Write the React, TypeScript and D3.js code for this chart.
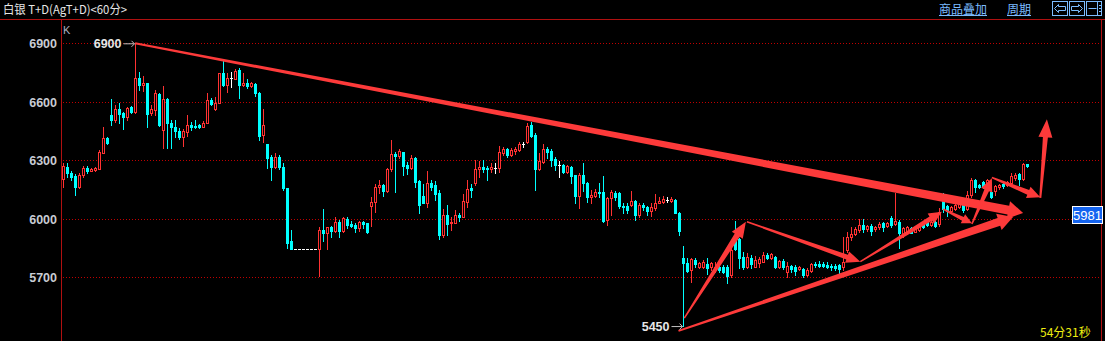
import React from "react";
import * as d3 from "d3";

// ---------- data ----------
const opens = [
  6203, 6264, 6237, 6220, 6165, 6225, 6262, 6247, 6250, 6257,
  6339, 6415, 6531, 6507, 6562, 6541, 6521, 6572, 6550, 6721,
  6686, 6695, 6541, 6558, 6640, 6456, 6613, 6490, 6469, 6452,
  6418, 6447, 6481, 6477, 6481, 6469, 6490, 6609, 6562, 6596,
  6746, 6686, 6721, 6716, 6763, 6686, 6698, 6683, 6691, 6647,
  6430, 6384, 6316, 6264, 6319, 6268, 6156, 5888, 5845, 5845,
  5845, 5845, 5845, 5845, 5845, 5942, 5929, 5960, 5939, 5983,
  5939, 6001, 5973, 5970, 5954, 5983, 5980, 6066, 6084, 6161,
  6173, 6144, 6253, 6332, 6324, 6342, 6276, 6259, 6310, 6194,
  6117, 6083, 6182, 6173, 6130, 5917, 6019, 5977, 5980, 6019,
  6011, 6084, 6156, 6185, 6253, 6264, 6259, 6255, 6259, 6262,
  6336, 6356, 6327, 6348, 6353, 6382, 6395, 6481, 6429, 6255,
  6293, 6356, 6348, 6306, 6276, 6276, 6242, 6267, 6224, 6117,
  6225, 6186, 6111, 6117, 6140, 6140, 5994, 6105, 6134, 6134,
  6066, 6066, 6071, 6093, 6020, 6071, 6060, 6042, 6054, 6083,
  6088, 6097, 6093, 6097, 6032, 5798, 5772, 5738, 5789, 5755,
  5752, 5769, 5752, 5741, 5755, 5755, 5755, 5712, 5900, 5895,
  5803, 5755, 5798, 5755, 5772, 5781, 5815, 5800, 5806, 5755,
  5786, 5729, 5758, 5755, 5741, 5741, 5712, 5734, 5769, 5766,
  5769, 5764, 5758, 5760, 5764, 5755, 5840, 5905, 5923, 5943,
  5969, 5946, 5963, 5946, 5956, 5977, 5963, 6002, 5973, 5985,
  5917, 5925, 5951, 5934, 5942, 5977, 5990, 5968, 5985, 5973,
  6127, 6066, 6042, 6049, 6058, 6071, 6049, 6122, 6199, 6173,
  6190, 6165, 6139, 6144, 6161, 6178, 6173, 6182, 6207, 6229,
  6202, 6281,
];
const highs = [
  6288, 6285, 6247, 6230, 6233, 6271, 6271, 6262, 6265, 6353,
  6469, 6421, 6613, 6584, 6596, 6550, 6575, 6579, 6900, 6751,
  6733, 6695, 6584, 6661, 6644, 6681, 6618, 6507, 6507, 6464,
  6459, 6533, 6498, 6507, 6485, 6502, 6647, 6618, 6627, 6746,
  6818, 6746, 6751, 6767, 6772, 6746, 6715, 6703, 6698, 6652,
  6562, 6384, 6327, 6336, 6327, 6288, 6160, 5943, 5845, 5845,
  5845, 5845, 5845, 5845, 5960, 6050, 5960, 5963, 6007, 5994,
  6007, 6007, 5990, 5977, 5990, 5990, 5980, 6113, 6178, 6199,
  6178, 6259, 6404, 6344, 6356, 6342, 6293, 6327, 6318, 6199,
  6178, 6245, 6199, 6195, 6148, 6050, 6071, 6011, 6045, 6028,
  6127, 6199, 6178, 6301, 6296, 6301, 6271, 6284, 6284, 6375,
  6370, 6365, 6361, 6370, 6395, 6395, 6489, 6498, 6438, 6336,
  6383, 6366, 6356, 6315, 6296, 6281, 6276, 6271, 6224, 6237,
  6288, 6191, 6148, 6151, 6182, 6220, 6110, 6148, 6145, 6140,
  6080, 6080, 6145, 6097, 6080, 6080, 6066, 6080, 6128, 6114,
  6117, 6110, 6114, 6100, 6037, 5861, 5798, 5798, 5798, 5781,
  5789, 5798, 5781, 5776, 5765, 5765, 5764, 5849, 5991, 5900,
  5832, 5823, 5815, 5810, 5806, 5832, 5823, 5823, 5810, 5789,
  5795, 5781, 5763, 5763, 5760, 5746, 5746, 5772, 5781, 5786,
  5776, 5776, 5769, 5766, 5769, 5905, 5934, 5960, 5960, 5998,
  5998, 5970, 5973, 5965, 5985, 5985, 5982, 6014, 6134, 5994,
  5960, 5965, 5958, 5965, 5968, 5982, 5995, 5990, 5990, 6054,
  6130, 6071, 6068, 6075, 6088, 6080, 6144, 6207, 6203, 6180,
  6195, 6205, 6148, 6173, 6178, 6182, 6195, 6233, 6233, 6233,
  6288, 6281,
];
const lows = [
  6165, 6216, 6199, 6122, 6160, 6216, 6237, 6245, 6247, 6254,
  6336, 6384, 6481, 6498, 6490, 6459, 6507, 6541, 6545, 6661,
  6657, 6469, 6533, 6533, 6476, 6362, 6362, 6362, 6421, 6408,
  6374, 6425, 6456, 6464, 6464, 6469, 6490, 6584, 6558, 6592,
  6683, 6652, 6678, 6716, 6618, 6683, 6669, 6678, 6630, 6404,
  6396, 6259, 6199, 6259, 6254, 6148, 5849, 5845, 5845, 5845,
  5845, 5845, 5845, 5845, 5707, 5888, 5843, 5908, 5934, 5908,
  5934, 5951, 5956, 5934, 5939, 5951, 5929, 5963, 6036, 6130,
  6117, 6139, 6247, 6139, 6310, 6224, 6230, 6253, 6165, 6031,
  6079, 6062, 6148, 6096, 5896, 5908, 5917, 5942, 5977, 5990,
  6007, 6062, 6113, 6173, 6216, 6242, 6199, 6242, 6237, 6242,
  6327, 6315, 6324, 6332, 6349, 6366, 6390, 6420, 6148, 6250,
  6284, 6310, 6271, 6250, 6212, 6233, 6237, 6182, 6083, 6054,
  6145, 6088, 6080, 6114, 6110, 5986, 5969, 6020, 6097, 6054,
  6032, 6028, 6066, 5994, 6011, 6046, 6020, 6015, 6046, 6080,
  6083, 6088, 6088, 6028, 5917, 5450, 5729, 5678, 5755, 5746,
  5746, 5717, 5738, 5729, 5729, 5720, 5673, 5704, 5840, 5746,
  5741, 5746, 5746, 5751, 5755, 5776, 5793, 5795, 5746, 5746,
  5741, 5700, 5729, 5712, 5738, 5704, 5707, 5729, 5755, 5755,
  5752, 5746, 5738, 5738, 5720, 5738, 5832, 5892, 5917, 5934,
  5930, 5940, 5917, 5940, 5946, 5939, 5958, 5960, 5968, 5849,
  5908, 5920, 5925, 5930, 5938, 5955, 5963, 5963, 5958, 5963,
  6036, 6014, 6038, 6045, 6054, 6036, 6045, 6113, 6139, 6160,
  6160, 6160, 6105, 6122, 6155, 6160, 6168, 6173, 6200, 6173,
  6199, 6264,
];
const closes = [
  6271, 6233, 6216, 6165, 6225, 6262, 6245, 6256, 6262, 6343,
  6415, 6387, 6507, 6562, 6538, 6524, 6567, 6550, 6721, 6686,
  6698, 6538, 6562, 6644, 6481, 6613, 6490, 6469, 6452, 6418,
  6452, 6481, 6473, 6473, 6469, 6490, 6609, 6589, 6596, 6746,
  6686, 6721, 6721, 6760, 6686, 6698, 6683, 6695, 6644, 6425,
  6481, 6310, 6264, 6316, 6268, 6156, 5874, 5845, 5845, 5845,
  5845, 5845, 5845, 5845, 5942, 5929, 5960, 5939, 5983, 5939,
  6004, 5968, 5963, 5954, 5983, 5973, 5932, 6084, 6161, 6173,
  6144, 6253, 6332, 6324, 6348, 6271, 6259, 6310, 6190, 6071,
  6079, 6182, 6165, 6127, 5917, 6019, 5973, 5985, 6019, 6011,
  6091, 6151, 6148, 6253, 6264, 6255, 6255, 6267, 6259, 6341,
  6356, 6327, 6353, 6358, 6383, 6382, 6476, 6424, 6255, 6296,
  6356, 6344, 6301, 6276, 6276, 6242, 6271, 6219, 6118, 6225,
  6186, 6114, 6122, 6140, 6134, 5991, 6105, 6140, 6111, 6066,
  6060, 6046, 6093, 6020, 6071, 6060, 6042, 6060, 6080, 6093,
  6100, 6097, 6100, 6032, 5940, 5772, 5734, 5793, 5769, 5772,
  5776, 5746, 5772, 5755, 5738, 5729, 5707, 5840, 5845, 5798,
  5755, 5803, 5769, 5789, 5793, 5815, 5798, 5817, 5755, 5786,
  5755, 5758, 5741, 5734, 5755, 5712, 5738, 5769, 5762, 5760,
  5759, 5755, 5752, 5746, 5741, 5781, 5909, 5923, 5946, 5969,
  5946, 5963, 5939, 5960, 5973, 5956, 5977, 5968, 5990, 5925,
  5951, 5960, 5929, 5960, 5963, 5960, 5968, 5985, 5963, 6036,
  6049, 6042, 6062, 6071, 6075, 6045, 6122, 6199, 6161, 6165,
  6165, 6199, 6110, 6168, 6173, 6169, 6190, 6220, 6224, 6202,
  6281, 6271,
];

const yTicks = [5700, 6000, 6300, 6600, 6900];
const titleText = "白银 T+D(AgT+D)<60分>";
const linkTexts = ["商品叠加", "周期"];
const highMark = { index: 18, value: 6900 };
const lowMark = { index: 155, value: 5450 };
const lastPriceLabel = 5981;
const timerText = "54分31秒";
const axisLetter = "K";

// drawn trend arrows (candle index, price)
const arrowFrom = [
  [17.9, 6900], [153.75, 5425], [155.2, 5491], [170.85, 5985], [199.2, 5780],
  [219.9, 6050], [227.1, 5973], [232.1, 6212], [244.2, 6107],
];
const arrowTo = [
  [239.9, 6030], [237.4, 6009], [170.6, 5985], [199.2, 5780], [219.6, 6036],
  [227.1, 5977], [232.1, 6208], [244.2, 6110], [245.85, 6510],
];

// ---------- styles ----------
const W = 1105;
const H = 341;
const RED = "#ff3232";
const CYAN = "#00ffff";
const ARROW = "#fd3a3a";
const GRID = "#c00000";
const FRAME = "#b01010";
const LINK = "#7cbcff";
// [startWidth, shaftWidth, headWidth, headLength]
const arrowShape = [
  [2, 9, 18, 15], [2, 8, 17, 15], [1.5, 6, 13, 16], [1.5, 5, 12, 14], [1.5, 5, 12, 13],
  [1.5, 4, 10, 10], [1.5, 5, 12, 13], [1.5, 5, 12, 13], [2, 5, 14, 18],
];

function arrowPath(x0: number, y0: number, x1: number, y1: number, s: number[]) {
  const [w0, w1, hw, hl] = s;
  const dx = x1 - x0, dy = y1 - y0, L = Math.hypot(dx, dy);
  const ux = dx / L, uy = dy / L, nx = -uy, ny = ux;
  const bx = x1 - ux * hl, by = y1 - uy * hl;
  const pts = [
    [x0 + (nx * w0) / 2, y0 + (ny * w0) / 2],
    [bx + (nx * w1) / 2, by + (ny * w1) / 2],
    [bx + (nx * hw) / 2, by + (ny * hw) / 2],
    [x1, y1],
    [bx - (nx * hw) / 2, by - (ny * hw) / 2],
    [bx - (nx * w1) / 2, by - (ny * w1) / 2],
    [x0 - (nx * w0) / 2, y0 - (ny * w0) / 2],
  ];
  return "M" + pts.map((p) => p[0].toFixed(2) + "," + p[1].toFixed(2)).join("L") + "Z";
}

export default function App() {
  const n = closes.length;
  const x = d3.scaleLinear().domain([0, n - 1]).range([63.5, 63.5 + 4 * (n - 1)]);
  const y = d3.scaleLinear().domain([5700, 6900]).range([277.3, 43.3]);
  const py = (v: number) => Math.round(y(v));

  const candles = d3.range(n).map((i) => {
    const o = opens[i], c = closes[i], h = highs[i], l = lows[i];
    const xc = x(i);
    if (Math.abs(c - o) < 1) {
      const yy = py(o) + 0.5;
      return (
        <g key={i} stroke="#ffffff" strokeWidth={1}>
          {h !== l && <line x1={xc} x2={xc} y1={py(h)} y2={py(l) + 1} />}
          <line x1={xc - 1.5} x2={xc + 1.5} y1={yy} y2={yy} />
        </g>
      );
    }
    if (c > o) {
      const top = py(c), bot = py(o);
      return (
        <g key={i} stroke={RED} strokeWidth={1}>
          {h > c && <line x1={xc} x2={xc} y1={py(h)} y2={top} />}
          {l < o && <line x1={xc} x2={xc} y1={bot + 1} y2={py(l) + 1} />}
          <rect x={xc - 1} y={top + 0.5} width={2} height={Math.max(1, bot - top)} fill="#000" />
        </g>
      );
    }
    const top = py(o), bot = py(c);
    return (
      <g key={i}>
        <line x1={xc} x2={xc} y1={py(h)} y2={py(l) + 1} stroke={CYAN} strokeWidth={1} />
        <rect x={xc - 1.5} y={top} width={3} height={Math.max(1, bot - top + 1)} fill={CYAN} />
      </g>
    );
  });

  const axisFont = "'Liberation Sans', Arial, sans-serif";
  const cjkFont = "'Noto Sans CJK SC', sans-serif";

  const hx = x(highMark.index), hy = y(highMark.value);
  const lx = x(lowMark.index), ly = y(lowMark.value);
  const lpY = y(lastPriceLabel);

  return (
    <div style={{ position: "absolute", left: 0, top: 0, width: W, height: H, background: "#000" }}>
      <svg width={W} height={H} style={{ display: "block" }}>
        <rect x={0} y={0} width={W} height={H} fill="#000" />
        {/* header */}
        <text x={3} y={14} fontFamily={cjkFont} fontSize={12} fill="#e6e6e6" textLength={124} lengthAdjust="spacingAndGlyphs">
          {titleText}
        </text>
        <text x={939} y={13.5} fontFamily={cjkFont} fontSize={12} fill={LINK}>{linkTexts[0]}</text>
        <line x1={939} x2={987} y1={15.5} y2={15.5} stroke={LINK} />
        <text x={1007} y={13.5} fontFamily={cjkFont} fontSize={12} fill={LINK}>{linkTexts[1]}</text>
        <line x1={1007} x2={1031} y1={15.5} y2={15.5} stroke={LINK} />
        <g stroke={LINK} fill="none" strokeWidth={1}>
          <rect x={1052.5} y={1.5} width={15} height={14} />
          <path d="M1054.5,8.5 L1058.5,4.5 L1058.5,6.5 L1065.5,6.5 L1065.5,10.5 L1058.5,10.5 L1058.5,12.5 Z" />
          <rect x={1069.5} y={1.5} width={15} height={14} />
          <path d="M1082.5,8.5 L1078.5,4.5 L1078.5,6.5 L1071.5,6.5 L1071.5,10.5 L1078.5,10.5 L1078.5,12.5 Z" />
          <rect x={1086.5} y={1.5} width={15} height={14} />
          <line x1={1088.5} x2={1096.5} y1={8.5} y2={8.5} />
          <line x1={1097.5} x2={1097.5} y1={2} y2={15} />
          <line x1={1099} x2={1101} y1={5.5} y2={5.5} />
          <line x1={1099} x2={1101} y1={8.5} y2={8.5} />
          <line x1={1099} x2={1101} y1={11.5} y2={11.5} />
        </g>
        <line x1={0} x2={W} y1={19.5} y2={19.5} stroke={FRAME} />
        <line x1={61.5} x2={61.5} y1={19.5} y2={H} stroke={FRAME} />
        <line x1={1101.5} x2={1101.5} y1={19.5} y2={H} stroke={FRAME} />

        {/* grid + ticks */}
        {yTicks.map((t) => (
          <g key={t}>
            <line x1={63} x2={1101} y1={py(t) + 0.5} y2={py(t) + 0.5} stroke={GRID} strokeDasharray="1 2" />
            <text x={57} y={py(t) + 5} textAnchor="end" fontFamily={axisFont} fontWeight="bold" fontSize={12.5} fill="#c8ccd4">
              {t}
            </text>
          </g>
        ))}
        <text x={63} y={34} fontFamily={axisFont} fontSize={11} fill="#a8b0c0">{axisLetter}</text>

        {/* candles */}
        {candles}

        {/* trend arrows */}
        {arrowFrom.map((f, k) => (
          <path
            key={k}
            d={arrowPath(x(f[0]), y(f[1]), x(arrowTo[k][0]), y(arrowTo[k][1]), arrowShape[k])}
            fill={ARROW}
          />
        ))}

        {/* high / low marks */}
        <text x={hx - 14} y={hy + 4.5} textAnchor="end" fontFamily={axisFont} fontWeight="bold" fontSize={12.5} fill="#e6e6e6">
          {highMark.value}
        </text>
        <path d={`M${hx - 12},${hy + 0.5} L${hx - 1},${hy + 0.5} M${hx - 4},${hy - 2.5} L${hx - 1},${hy + 0.5} L${hx - 4},${hy + 3.5}`} stroke="#c0c0c0" fill="none" />
        <text x={lx - 14} y={ly + 5} textAnchor="end" fontFamily={axisFont} fontWeight="bold" fontSize={12.5} fill="#e6e6e6">
          {lowMark.value}
        </text>
        <path d={`M${lx - 12},${ly + 0.5} L${lx - 1},${ly + 0.5} M${lx - 4},${ly - 2.5} L${lx - 1},${ly + 0.5} L${lx - 4},${ly + 3.5}`} stroke="#c0c0c0" fill="none" />

        {/* last price label */}
        <rect x={1072.5} y={lpY - 16} width={30} height={17} fill="#1464f0" stroke="#ffffff" />
        <text x={1087.5} y={lpY - 3} textAnchor="middle" fontFamily={axisFont} fontSize={13} fill="#ffffff">
          {lastPriceLabel}
        </text>

        {/* timer */}
        <text x={1040} y={337} fontFamily={cjkFont} fontSize={12} fill="#eeee10">{timerText}</text>
      </svg>
    </div>
  );
}
